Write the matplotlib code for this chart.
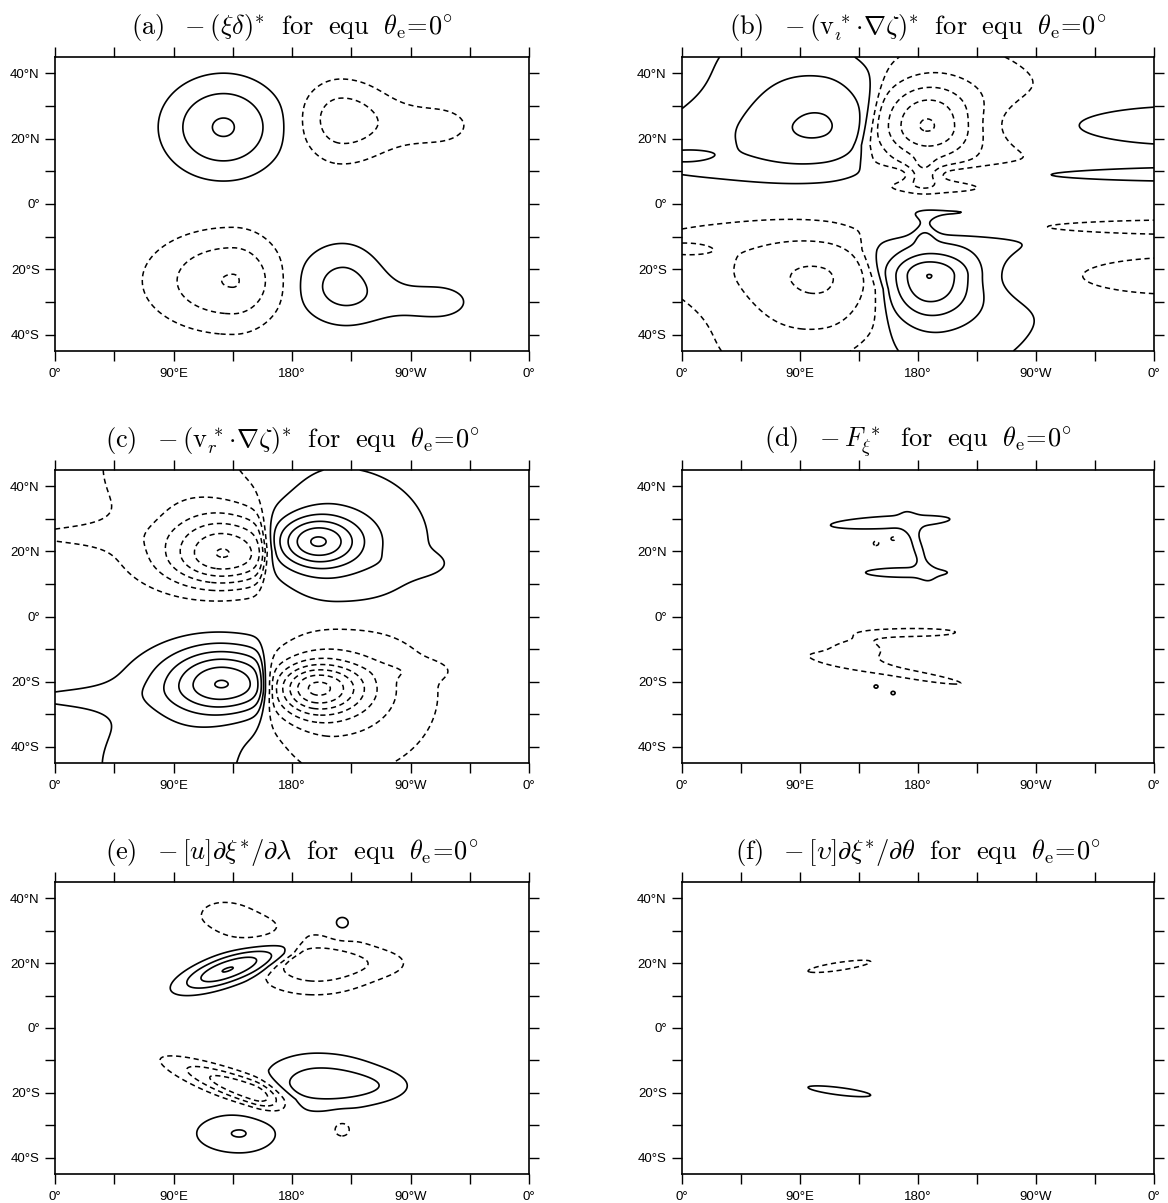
import numpy as np
import matplotlib
matplotlib.use("Agg")
import matplotlib.pyplot as plt

plt.rcParams["mathtext.fontset"] = "cm"
plt.rcParams["font.family"] = ["Liberation Sans", "DejaVu Sans"]

# ---------------------------------------------------------------------------
# Eddy vorticity budget terms (equatorial heating, theta_e = 0 deg).
# Each field is a sum of anisotropic Gaussian anomalies:
#   (lon, lat, amplitude, sig_west, sig_east, sig_south, sig_north, tilt)
# tilt = change of the anomaly axis latitude per degree of longitude.
# A "front" (lon per lat) separates anomalies lying west / east of it.
# ---------------------------------------------------------------------------
a_blobs = [
    (128, 23.5, 3.10, 33, 32, 11, 11, 0.0),
    (217, 26.0, -2.50, 22, 27, 10, 9, 0.0),
    (290, 24.0, -1.30, 35, 28, 6.3, 6.3, 0.0),
    (135, -23.5, -3.05, 46, 27, 11, 11, 0.0),
    (218, -25.0, 2.30, 26, 24, 9, 10, 0.0),
    (290, -30.0, 1.30, 35, 28, 6, 6, 0.0),
]
a_front_lat = [-45, 45]
a_front_lon = [180, 180]

b_blobs = [
    (108, 25.0, 2.50, 46, 34, 11, 16, 0.0),
    (20, 16.0, 1.30, 60, 80, 9, 14, 0.0),
    (40, 48.0, 0.65, 35, 40, 10, 10, 0.0),
    (-5, 14.5, 1.00, 20, 22, 2.2, 2.2, 0.0),
    (360, 24.0, 2.20, 90, 90, 5.3, 5.3, 0.0),
    (360, 9.0, 1.90, 250, 250, 2.0, 2.0, 0.0),
    (186, 24.0, -3.85, 26, 28, 7, 9, 0.0),
    (205, 22.0, -1.70, 50, 80, 18, 25, 0.0),
    (185, 7.0, -0.80, 35, 30, 3, 4, 0.0),
    (184, 9.0, -1.80, 8, 8, 3, 3, 0.0),
    (188, -22.0, 3.60, 22, 26, 9, 5, 0.0),
    (200, -20.0, 1.80, 45, 75, 30, 22, 0.0),
    (185, -8.0, 1.50, 7, 7, 2.5, 2.5, 0.0),
    (108, -24.0, -2.50, 46, 34, 16, 11, 0.0),
    (20, -16.0, -1.30, 60, 80, 14, 11, 0.0),
    (40, -48.0, -0.65, 35, 40, 10, 10, 0.0),
    (-5, -13.5, -1.00, 20, 22, 2.2, 2.2, 0.0),
    (360, -7.0, -1.95, 250, 250, 2.0, 2.0, 0.0),
    (360, -22.0, -2.00, 90, 90, 5.3, 5.3, 0.0),
]
b_front_lat = [-45, -26, -14, -3, 5, 18, 45]
b_front_lon = [155, 151, 140, 142, 141, 139, 153]

c_blobs = [
    (130, 19.0, -4.90, 31, 35, 7, 9, 0.0),
    (100, 22.0, -1.40, 55, 50, 12, 40, 0.0),
    (60, 48.0, -0.55, 30, 40, 10, 10, 0.0),
    (-10, 25.0, -0.85, 50, 50, 3.5, 3.5, 0.0),
    (198, 23.0, 4.40, 22, 23, 5.5, 5.5, 0.0),
    (215, 23.0, 1.90, 40, 60, 17, 20, 0.0),
    (280, 16.0, 0.50, 25, 15, 2.5, 2.5, 0.0),
    (129, -20.5, 4.90, 31, 35, 6.8, 8, 0.0),
    (100, -24.0, 1.40, 55, 50, 40, 12, 0.0),
    (60, -48.0, 0.55, 30, 40, 10, 10, 0.0),
    (-10, -25.0, 0.85, 50, 50, 3.5, 3.5, 0.0),
    (198, -22.0, -5.30, 22, 26, 6, 5.5, 0.0),
    (215, -24.0, -2.20, 40, 60, 20, 17, 0.0),
    (280, -16.5, -0.50, 25, 15, 2.0, 2.0, 0.0),
]
c_front_lat = [-45, -23, -7, 7, 20, 45]
c_front_lon = [157, 160, 159, 158, 161, 157]

d_blobs = [
    (160, 29.0, 1.40, 57, 54, 2.3, 2.3, 0.02),
    (180, 21.0, 1.35, 7, 7, 4.5, 4.5, -0.8),
    (172, 13.5, 1.40, 39, 37, 1.8, 1.8, 0.0),
    (148, 22.5, -1.30, 3, 3, 1.0, 1.0, 0.0),
    (161, 24.0, -1.30, 3, 3, 1.0, 1.0, 0.0),
    (180, -4.8, -1.40, 37, 37, 1.5, 1.5, 0.0),
    (135, -10.5, -1.40, 26, 20, 3.5, 3.5, 0.0),
    (170, -17.5, -1.40, 55, 52, 1.6, 1.6, -0.07),
    (148, -21.5, 1.15, 3, 3, 1.0, 1.0, 0.0),
    (161, -23.5, 1.15, 3, 3, 1.0, 1.0, 0.0),
]

e_blobs = [
    (131, 18.0, 4.05, 26, 29, 3.4, 3.4, 0.13),
    (128, 35.0, -1.30, 22, 25, 4.5, 5, 0.0),
    (152, 30.0, -1.25, 18, 20, 3.2, 3.2, 0.0),
    (197, 19.5, -2.60, 34, 34, 6.7, 6.7, 0.0),
    (250, 20.0, -0.80, 30, 22, 3.5, 3.5, 0.0),
    (218, 32.0, 1.65, 7, 7, 2.6, 2.6, 0.0),
    (150, -19.9, -4.05, 42, 16, 3.2, 3.2, -0.142),
    (199, -17.0, 2.40, 32, 38, 6.5, 7, 0.0),
    (245, -18.0, 0.90, 30, 22, 3.5, 3.5, 0.0),
    (140, -32.5, 2.05, 27, 23, 5, 5, 0.0),
    (218, -31.0, -1.60, 7, 7, 2.6, 2.6, 0.0),
]
e_front_lat = [-45, -30, -22, -13, 0, 15, 19, 23, 27, 45]
e_front_lon = [190, 190, 181, 155, 155, 155, 166, 180, 186, 190]

f_blobs = [
    (120, 19.0, -1.30, 33, 33, 1.7, 1.7, 0.06),
    (120, -19.5, 1.30, 33, 33, 1.6, 1.6, -0.05),
]

budget_levels = np.arange(1, 9)
weak_levels = np.array([1])

titles = [
    r"$\mathrm{(a)}\ \ -(\xi\delta)^{*}\ \ \mathrm{for\ \ equ}\ \ \theta_{\mathrm{e}}\!=\!0^{\circ}$",
    r"$\mathrm{(b)}\ \ -(\mathrm{v}_{\imath}^{\,*}\!\cdot\!\nabla\zeta)^{*}\ \ \mathrm{for\ \ equ}\ \ \theta_{\mathrm{e}}\!=\!0^{\circ}$",
    r"$\mathrm{(c)}\ \ -(\mathrm{v}_{r}^{\,*}\!\cdot\!\nabla\zeta)^{*}\ \ \mathrm{for\ \ equ}\ \ \theta_{\mathrm{e}}\!=\!0^{\circ}$",
    r"$\mathrm{(d)}\ \ -F_{\xi}^{\,*}\ \ \mathrm{for\ \ equ}\ \ \theta_{\mathrm{e}}\!=\!0^{\circ}$",
    r"$\mathrm{(e)}\ \ -[u]\partial\xi^{*}/\partial\lambda\ \ \mathrm{for\ \ equ}\ \ \theta_{\mathrm{e}}\!=\!0^{\circ}$",
    r"$\mathrm{(f)}\ \ -[\upsilon]\partial\xi^{*}/\partial\theta\ \ \mathrm{for\ \ equ}\ \ \theta_{\mathrm{e}}\!=\!0^{\circ}$",
]

lon_ticks = np.arange(0, 361, 45)
lon_labels = ["0°", "", "90°E", "", "180°", "", "90°W", "", "0°"]
lat_ticks = np.arange(-40, 41, 10)
lat_labels = ["40°S", "", "20°S", "", "0°", "", "20°N", "", "40°N"]

lon = np.linspace(0, 360, 721)
lat = np.linspace(-45, 45, 361)
LON, LAT = np.meshgrid(lon, lat)


def sigmoid(x):
    return 0.5 * (1.0 + np.tanh(0.5 * x))


def build_field(blobs, front_lat=None, front_lon=None, eq=0.0):
    z = np.zeros_like(LON)
    fl = None if front_lat is None else np.interp(LAT, front_lat, front_lon)
    for lon0, lat0, amp, sw, se, ss, sn, k in blobs:
        dx = LON - lon0
        dy = LAT - (lat0 + k * dx)
        sx = np.where(dx < 0, sw, se)
        sy = np.where(dy < 0, ss, sn)
        g = amp * np.exp(-0.5 * ((dx / sx) ** 2 + (dy / sy) ** 2))
        if fl is not None:
            f0 = np.interp(lat0, front_lat, front_lon)
            if lon0 < f0:
                g = g * sigmoid((fl - LON) / 2.5)
            else:
                g = g * sigmoid((LON - fl) / 2.5)
        if lat0 >= eq:
            g = g * sigmoid((LAT - eq) / 1.5)
        else:
            g = g * sigmoid((eq - LAT) / 1.5)
        z += g
    return z


panels = [
    (build_field(a_blobs, a_front_lat, a_front_lon), budget_levels),
    (build_field(b_blobs, b_front_lat, b_front_lon, eq=1.0), budget_levels),
    (build_field(c_blobs, c_front_lat, c_front_lon), budget_levels),
    (build_field(d_blobs), weak_levels),
    (build_field(e_blobs, e_front_lat, e_front_lon), budget_levels),
    (build_field(f_blobs), weak_levels),
]

W, H = 1168, 1203
fig = plt.figure(figsize=(W / 100, H / 100), dpi=100)
fig.patch.set_facecolor("white")

col_px = [(55, 474), (682, 472)]
row_px = [(57, 294), (470, 293), (882, 292)]

for i, (z, levels) in enumerate(panels):
    r, c = divmod(i, 2)
    x0, w = col_px[c]
    y0, h = row_px[r]
    ax = fig.add_axes([x0 / W, 1 - (y0 + h) / H, w / W, h / H])

    pos = [v for v in levels if v < z.max()]
    neg = [-v for v in levels[::-1] if -v > z.min()]
    if pos:
        ax.contour(LON, LAT, z, levels=pos, colors="k", linewidths=1.2,
                   linestyles="solid")
    if neg:
        cs = ax.contour(LON, LAT, z, levels=neg, colors="k", linewidths=1.1,
                        linestyles="dashed")
        cs.set_linestyle((0, (3.4, 2.4)))

    ax.set_xlim(0, 360)
    ax.set_ylim(-45, 45)
    ax.set_xticks(lon_ticks)
    ax.set_xticklabels(lon_labels)
    ax.set_yticks(lat_ticks)
    ax.set_yticklabels(lat_labels)
    ax.tick_params(axis="both", direction="out", length=7, width=1.0,
                   top=True, right=True, labelsize=9.5, colors="k")
    ax.tick_params(axis="x", pad=5)
    ax.tick_params(axis="y", pad=4)
    for sp in ax.spines.values():
        sp.set_linewidth(1.2)

    fig.text((x0 + w / 2) / W, 1 - (y0 - 23) / H, titles[i],
             ha="center", va="baseline", fontsize=19)

fig.savefig("out.png", dpi=100, facecolor="white")
